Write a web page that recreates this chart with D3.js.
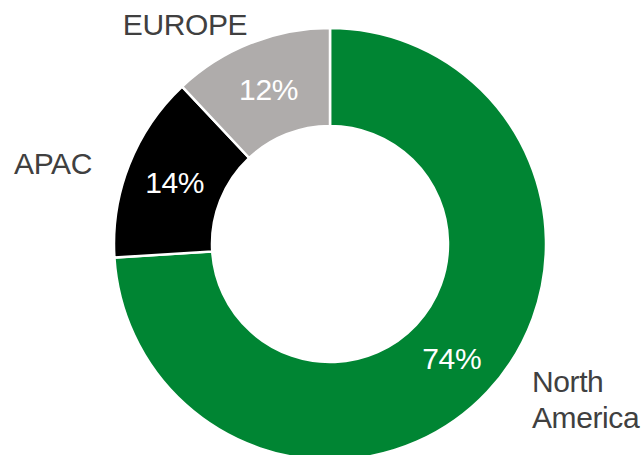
<!DOCTYPE html>
<html>
<head>
<meta charset="utf-8">
<script src="https://cdn.jsdelivr.net/npm/d3@7"></script>
<style>
  html, body { margin: 0; padding: 0; background: #fff; }
  svg { display: block; }
  text { font-family: "Liberation Sans", Arial, sans-serif; letter-spacing: -0.4px; }
</style>
</head>
<body>
<svg id="chart" width="641" height="455"></svg>
<script>
const regions = ['North America', 'APAC', 'EUROPE'];
const shares = [74, 14, 12];
const colors = ['#008533', '#000000', '#afacab'];

// where the region names sit, relative to the ring's centre
const nameSpots = {
  'North America': { dx: 202, dy: 148, anchor: 'start' },
  'APAC': { dx: -277, dy: -70, anchor: 'middle' },
  'EUROPE': { dx: -145, dy: -209, anchor: 'middle' }
};

const width = 641, height = 455;
const cx = 330, cy = 244;
const outerR = 216, innerR = 118;

const svg = d3.select('#chart');
const g = svg.append('g').attr('transform', `translate(${cx},${cy})`);

const rows = regions.map((r, i) => ({ region: r, share: shares[i], color: colors[i] }));

const pie = d3.pie()
  .value(d => d.share)
  .sort(null);

const arc = d3.arc()
  .innerRadius(innerR)
  .outerRadius(outerR);

const slices = pie(rows);

g.selectAll('path')
  .data(slices)
  .enter()
  .append('path')
  .attr('d', arc)
  .attr('fill', d => d.data.color)
  .attr('stroke', '#fff')
  .attr('stroke-width', 2.5);

g.selectAll('text.pct')
  .data(slices)
  .enter()
  .append('text')
  .attr('class', 'pct')
  .attr('transform', d => `translate(${arc.centroid(d)})`)
  .attr('text-anchor', 'middle')
  .attr('dy', '0.36em')
  .attr('font-size', 30)
  .attr('fill', '#fff')
  .text(d => d.data.share + '%');

slices.forEach(d => {
  const spot = nameSpots[d.data.region];
  const words = d.data.region.split(' ');
  const t = g.append('text')
    .attr('x', spot.dx)
    .attr('y', spot.dy)
    .attr('text-anchor', spot.anchor)
    .attr('font-size', 30)
    .attr('fill', '#404040');
  words.forEach((w, i) => {
    t.append('tspan')
      .attr('x', spot.dx)
      .attr('dy', i === 0 ? 0 : 36)
      .text(w);
  });
});
</script>
</body>
</html>
